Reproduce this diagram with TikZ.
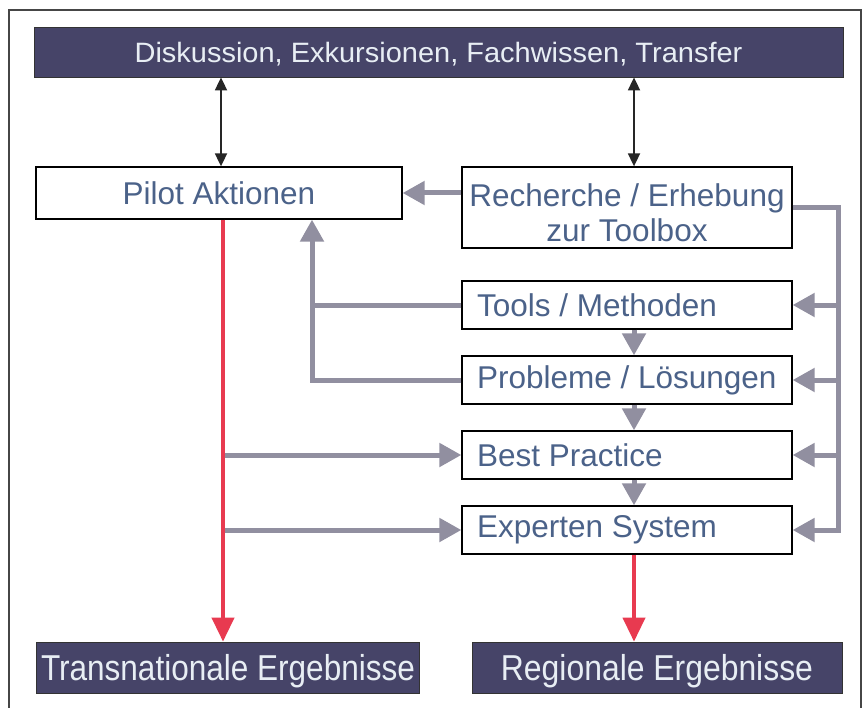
\documentclass[tikz,border=0pt]{standalone}
\usepackage{fontspec}
\setmainfont{Liberation Sans}
\usetikzlibrary{arrows.meta,calc}
\definecolor{banfill}{RGB}{70,68,104}
\definecolor{bantext}{RGB}{232,238,244}
\definecolor{boxtext}{RGB}{75,98,137}
\definecolor{garr}{RGB}{145,143,160}
\definecolor{rarr}{RGB}{232,58,80}
\definecolor{framec}{RGB}{70,70,70}
\tikzset{
  banner/.style={draw=black!80, line width=0.8pt, fill=banfill, text=bantext, inner sep=0pt, anchor=center},
  wbox/.style={draw=black, line width=1.3pt, fill=white, text=boxtext, inner sep=0pt,
    font=\fontsize{31.5}{35}\selectfont},
  lbox/.style={wbox, inner xsep=15pt, minimum width=330pt, minimum height=48pt},
  gline/.style={draw=garr, line width=5pt},
  garrow/.style={gline, -{Triangle[length=22pt,width=23pt]}},
  rarrow/.style={draw=rarr, line width=4pt, -{Triangle[length=24pt,width=22pt]}},
  barrow/.style={draw=black!85, line width=1.8pt, {Triangle[length=13pt,width=12pt]}-{Triangle[length=13pt,width=12pt]}},
}
\newcommand{\bantxt}[3]{\raisebox{0pt}[\height][0pt]{\scalebox{#2}[1]{\fontsize{#1}{#1}\selectfont #3}}}
\newcommand{\ltxt}[1]{\makebox[300pt][l]{#1}}
\begin{document}
\begin{tikzpicture}[x=1pt,y=-1pt]
\useasboundingbox (0,0) rectangle (866,708);
\fill[white] (0,0) rectangle (866,708);
\draw[framec, line width=1.2pt] (9,708) -- (9,10) -- (861,10) -- (861,708);

% coordinates for vertical connector lines
\coordinate (lx) at (221,0);
\coordinate (rx) at (223,0);
\coordinate (cx) at (634,0);
\coordinate (fb) at (312,0);
\coordinate (bus) at (838,0);

% nodes
\node[banner, minimum width=809pt, minimum height=50pt] (top) at (438.5,52) {\bantxt{28}{1.035}{Diskussion, Exkursionen, Fachwissen, Transfer}};
\node[wbox, minimum width=366pt, minimum height=52pt] (pilot) at (219,193) {\raisebox{-3pt}{Pilot Aktionen}};
\node[wbox, minimum width=330pt, minimum height=81pt] (rech) at (627,207.5) {\raisebox{-16pt}[0pt][0pt]{\begin{tabular}{@{}c@{}}Recherche / Erhebung\\zur Toolbox\end{tabular}}};
\node[lbox] (tools) at (627,305) {\ltxt{Tools / Methoden}};
\node[lbox] (probl) at (627,380) {\ltxt{Probleme / Lösungen}};
\node[lbox] (best) at (627,455) {\ltxt{Best Practice}};
\node[lbox] (expert) at (627,530) {\ltxt{Experten System}};
\node[banner, minimum width=383pt, minimum height=51pt] (trans) at (228,667.5) {\bantxt{36}{0.876}{Transnationale Ergebnisse}};
\node[banner, minimum width=370pt, minimum height=51pt] (region) at (657,667.5) {\bantxt{36}{0.886}{Regionale Ergebnisse}};

% black double arrows
\draw[barrow] (top.south -| lx) -- (pilot.north -| lx);
\draw[barrow] (top.south -| cx) -- (rech.north -| cx);

% Recherche -> Pilot
\draw[garrow] (rech.west |- pilot.east) -- (pilot.east);

% right bus
\draw[garrow] (rech.east) -| (bus |- expert.east) -- (expert.east);
\draw[garrow] (bus |- tools.east) -- (tools.east);
\draw[garrow] (bus |- probl.east) -- (probl.east);
\draw[garrow] (bus |- best.east) -- (best.east);

% stack down arrows
\draw[garrow] (tools.south -| cx) -- (probl.north -| cx);
\draw[garrow] (probl.south -| cx) -- (best.north -| cx);
\draw[garrow] (best.south -| cx) -- (expert.north -| cx);

% feedback to pilot
\draw[gline] (tools.west) -- (fb |- tools.west);
\draw[garrow] (probl.west) -| (fb |- pilot.south);

% pilot line to best / expert
\draw[garrow] (rx |- best.west) -- (best.west);
\draw[garrow] (rx |- expert.west) -- (expert.west);

% red arrows
\draw[rarrow] (pilot.south -| rx) -- (trans.north -| rx);
\draw[rarrow] (expert.south -| cx) -- (region.north -| cx);
\end{tikzpicture}
\end{document}
